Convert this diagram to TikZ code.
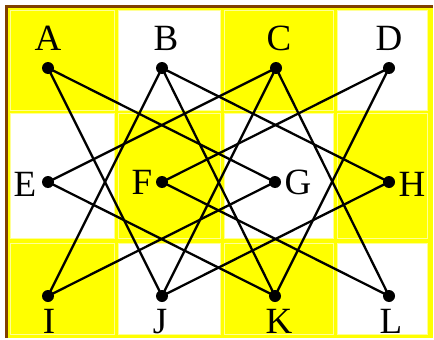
\documentclass[tikz,border=0pt]{standalone}
\usepackage{fontspec}
\setmainfont{Liberation Serif}
\definecolor{brd}{RGB}{128,64,0}
\definecolor{yel}{RGB}{255,255,0}
\definecolor{pale}{RGB}{255,255,150}
\tikzset{
  dot/.style={circle,fill=black,inner sep=0pt,minimum size=12pt},
  lab/.style={anchor=base,inner sep=0pt,font=\fontsize{37}{37}\selectfont},
  edge/.style={line width=2.3pt},
  ycell/.style={fill=yel,draw=pale,line width=1pt},
  wcell/.style={fill=white,draw=pale,line width=1pt}
}
\begin{document}
\begin{tikzpicture}[x=1pt,y=-1pt]
\useasboundingbox (0,0) rectangle (434,340);
\fill[white] (0,0) rectangle (434,340);
\fill[yel] (5,5) rectangle (433,338);
\draw[brd,line width=3.5pt] (6.5,338) -- (6.5,6.5) -- (433,6.5);
% cells
\draw[ycell] (10,10) rectangle (114,110);
\draw[wcell] (118,10) rectangle (220,110);
\draw[ycell] (224,10) rectangle (333,110);
\draw[wcell] (337,10) rectangle (427,110);
\draw[wcell] (10,113) rectangle (114,238);
\draw[ycell] (118,113) rectangle (220,238);
\draw[wcell] (224,113) rectangle (333,238);
\draw[ycell] (337,113) rectangle (427,238);
\draw[ycell] (10,243) rectangle (114,334);
\draw[wcell] (118,243) rectangle (220,334);
\draw[ycell] (224,243) rectangle (333,334);
\draw[wcell] (337,243) rectangle (427,334);
% points
\node[dot] (A) at (48,68) {};
\node[dot] (B) at (162,68) {};
\node[dot] (C) at (276,68) {};
\node[dot] (D) at (389,68) {};
\node[dot] (E) at (48,182) {};
\node[dot] (F) at (162,182) {};
\node[dot] (G) at (275,182) {};
\node[dot] (H) at (389,182) {};
\node[dot] (I) at (48,296) {};
\node[dot] (J) at (162,296) {};
\node[dot] (K) at (275,296) {};
\node[dot] (L) at (389,296) {};
% edges
\draw[edge] (A.center) -- (G.center);
\draw[edge] (A.center) -- (J.center);
\draw[edge] (B.center) -- (H.center);
\draw[edge] (B.center) -- (I.center);
\draw[edge] (B.center) -- (K.center);
\draw[edge] (C.center) -- (E.center);
\draw[edge] (C.center) -- (J.center);
\draw[edge] (C.center) -- (L.center);
\draw[edge] (D.center) -- (F.center);
\draw[edge] (D.center) -- (K.center);
\draw[edge] (E.center) -- (K.center);
\draw[edge] (F.center) -- (L.center);
\draw[edge] (G.center) -- (I.center);
\draw[edge] (H.center) -- (J.center);
% labels
\node[lab] (lA) at (48,50) {A};
\node[lab] (lB) at (166,50) {B};
\node[lab] (lC) at (279,50) {C};
\node[lab] (lD) at (389,50) {D};
\node[lab] (lE) at (25,196) {E};
\node[lab] (lF) at (142,194) {F};
\node[lab] (lG) at (298,194) {G};
\node[lab] (lH) at (412,196) {H};
\node[lab] (lI) at (49,333) {I};
\node[lab] (lJ) at (160,333) {J};
\node[lab] (lK) at (279,333) {K};
\node[lab] (lL) at (391,333) {L};
\end{tikzpicture}
\end{document}
